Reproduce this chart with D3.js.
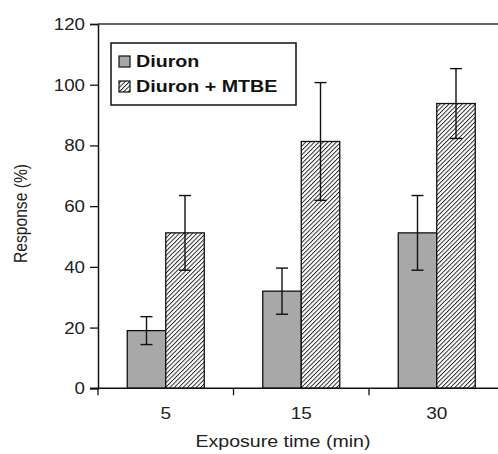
<!DOCTYPE html>
<html>
<head>
<meta charset="utf-8">
<script src="https://cdn.jsdelivr.net/npm/d3@7"></script>
<style>
  body { margin: 0; background: #fff; }
  svg { display: block; font-family: "Liberation Sans", Arial, sans-serif; }
</style>
</head>
<body>
<svg id="chart"></svg>
<script>
// data
var categories = ['5', '15', '30'];
var seriesNames = ['Diuron', 'Diuron + MTBE'];
var diuron = [19.0, 32.0, 51.2];
var diuronErr = [4.6, 7.6, 12.3];
var mtbe = [51.2, 81.3, 93.8];
var mtbeErr = [12.3, 19.4, 11.5];
var yTicks = [0, 20, 40, 60, 80, 100, 120];

var width = 498, height = 454;
var plotLeft = 98, plotTop = 24, plotBottom = 388.3, plotRight = 504.5;

var svg = d3.select('#chart')
	.attr('width', width)
	.attr('height', height);

// the source figure's text is a bit wider than its height suggests
function stretch(sel, k){
	sel.each(function(){
		var len = this.getComputedTextLength();
		d3.select(this)
			.attr('textLength', len * k)
			.attr('lengthAdjust', 'spacingAndGlyphs');
	});
}

var defs = svg.append('defs');
var pat = defs.append('pattern')
	.attr('id', 'hatch')
	.attr('patternUnits', 'userSpaceOnUse')
	.attr('width', 3.1)
	.attr('height', 3.1)
	.attr('patternTransform', 'rotate(45)');
pat.append('rect').attr('width', 3.1).attr('height', 3.1).attr('fill', '#fff');
pat.append('line')
	.attr('x1', 0).attr('y1', 0).attr('x2', 0).attr('y2', 3.1)
	.attr('stroke', '#1a1a1a').attr('stroke-width', 1.8);

var x = d3.scaleBand().domain(categories).range([plotLeft, plotRight]);
var x1 = d3.scaleBand().domain([0, 1]).range([0, 77]);
var y = d3.scaleLinear().domain([0, 120]).range([plotBottom, plotTop]);

var series = [
	{name: seriesNames[0], values: diuron, err: diuronErr, fill: '#a8a8a8'},
	{name: seriesNames[1], values: mtbe, err: mtbeErr, fill: 'url(#hatch)'}
];

function barX(c, i){
	return x(c) + (x.bandwidth() - 77) / 2 + x1(i);
}

// bars
series.forEach(function(s, i){
	svg.append('g').selectAll('rect').data(categories)
		.enter().append('rect')
		.attr('x', function(c){ return barX(c, i); })
		.attr('y', function(c, j){ return y(s.values[j]); })
		.attr('width', x1.bandwidth())
		.attr('height', function(c, j){ return y(0) - y(s.values[j]); })
		.attr('fill', s.fill)
		.attr('stroke', '#111')
		.attr('stroke-width', 1.3);
});

// error bars
series.forEach(function(s, i){
	var g = svg.append('g').attr('stroke', '#111').attr('stroke-width', 1.4);
	categories.forEach(function(c, j){
		var cx = barX(c, i) + x1.bandwidth() / 2;
		var hi = y(s.values[j] + s.err[j]), lo = y(s.values[j] - s.err[j]);
		g.append('line').attr('x1', cx).attr('x2', cx).attr('y1', hi).attr('y2', lo);
		g.append('line').attr('x1', cx - 6).attr('x2', cx + 6).attr('y1', hi).attr('y2', hi);
		g.append('line').attr('x1', cx - 6).attr('x2', cx + 6).attr('y1', lo).attr('y2', lo);
	});
});

// y axis
var yAxis = d3.axisLeft(y).tickValues(yTicks).tickSize(8).tickPadding(5);
var gy = svg.append('g')
	.attr('transform', 'translate(' + plotLeft + ',0)')
	.call(yAxis);
gy.select('.domain').attr('stroke', '#111').attr('stroke-width', 1.5);
gy.selectAll('.tick line').attr('stroke', '#111').attr('stroke-width', 1.3);
gy.selectAll('.tick text').attr('font-size', 17).attr('fill', '#222')
	.attr('font-family', '"Liberation Sans", Arial, sans-serif');
stretch(gy.selectAll('.tick text'), 1.1);

// top frame line
svg.append('line')
	.attr('x1', plotLeft).attr('x2', width)
	.attr('y1', y(120)).attr('y2', y(120))
	.attr('stroke', '#333').attr('stroke-width', 1.3);

// x axis
var xAxis = d3.axisBottom(x).tickSize(0).tickPadding(19);
var gx = svg.append('g')
	.attr('transform', 'translate(0,' + plotBottom + ')')
	.call(xAxis);
gx.select('.domain').remove();
gx.selectAll('.tick text').attr('font-size', 17).attr('fill', '#222')
	.attr('font-family', '"Liberation Sans", Arial, sans-serif');
stretch(gx.selectAll('.tick text'), 1.12);
svg.append('line')
	.attr('x1', plotLeft - 8).attr('x2', width)
	.attr('y1', plotBottom).attr('y2', plotBottom)
	.attr('stroke', '#111').attr('stroke-width', 1.5);
// category separator ticks
svg.append('g').selectAll('line').data(categories)
	.enter().append('line')
	.attr('x1', function(c){ return x(c); })
	.attr('x2', function(c){ return x(c); })
	.attr('y1', plotBottom).attr('y2', plotBottom + 7)
	.attr('stroke', '#111').attr('stroke-width', 1.3);

// axis titles
var xt = svg.append('text')
	.attr('x', 283).attr('y', 447)
	.attr('text-anchor', 'middle')
	.attr('font-size', 17).attr('fill', '#222')
	.text('Exposure time (min)');
stretch(xt, 1.15);
svg.append('text')
	.attr('transform', 'translate(27,213.5) rotate(-90)')
	.attr('text-anchor', 'middle')
	.attr('font-size', 19).attr('fill', '#222')
	.attr('textLength', 99).attr('lengthAdjust', 'spacingAndGlyphs')
	.text('Response (%)');

// legend
var lg = svg.append('g');
lg.append('rect')
	.attr('x', 111).attr('y', 43).attr('width', 185).attr('height', 62)
	.attr('fill', '#fff').attr('stroke', '#111').attr('stroke-width', 1.5);
series.forEach(function(s, i){
	lg.append('rect')
		.attr('x', 119).attr('y', 56 + i * 25).attr('width', 11).attr('height', 11)
		.attr('fill', s.fill).attr('stroke', '#111').attr('stroke-width', 1.2);
	var t = lg.append('text')
		.attr('x', 136).attr('y', 67 + i * 25)
		.attr('font-size', 16.5).attr('font-weight', 'bold').attr('fill', '#111')
		.text(s.name);
	stretch(t, 1.19);
});
</script>
</body>
</html>
